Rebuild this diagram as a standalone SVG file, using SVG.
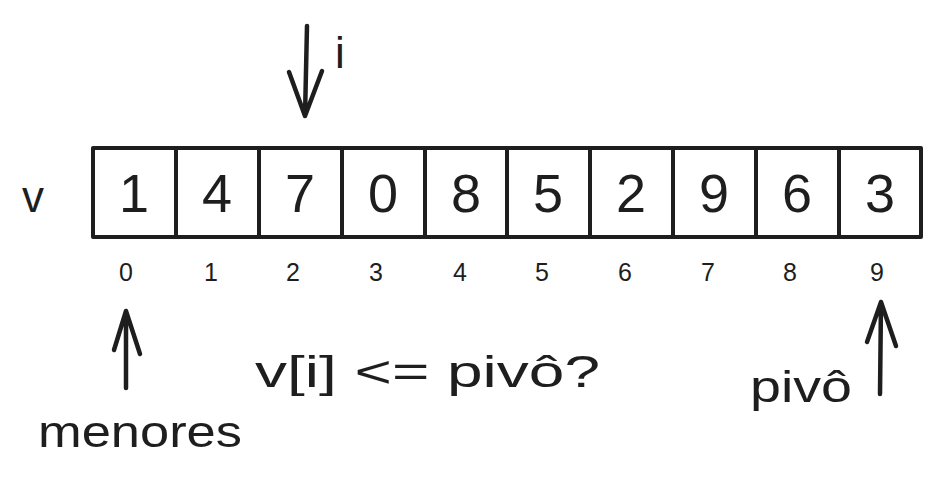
<svg xmlns="http://www.w3.org/2000/svg" width="940" height="481" viewBox="0 0 940 481">
<style>
.box{fill:#fff;stroke:#1e1e1e;stroke-width:4;stroke-linejoin:round;stroke-linecap:round}
.val{font-family:"Liberation Sans",Arial,sans-serif;font-size:54px;fill:#1e1e1e;text-anchor:middle}
.idx{font-family:"Liberation Sans",Arial,sans-serif;font-size:25px;fill:#1e1e1e;text-anchor:middle}
.lbl{font-family:"Liberation Sans",Arial,sans-serif;font-size:44px;fill:#1e1e1e}
.arr{fill:none;stroke:#1e1e1e;stroke-width:4.5;stroke-linecap:round;stroke-linejoin:round}
</style>
<rect width="940" height="481" fill="#fff"/>
<text class="lbl" x="22" y="212" font-size="42">v</text>
<g id="cell0"><rect class="box" x="93" y="148" width="83" height="89"/><text class="val" x="134" y="212">1</text><text class="idx" x="126" y="281">0</text></g>
<g id="cell1"><rect class="box" x="176" y="148" width="83" height="89"/><text class="val" x="217" y="212">4</text><text class="idx" x="211" y="281">1</text></g>
<g id="cell2"><rect class="box" x="259" y="148" width="83" height="89"/><text class="val" x="300" y="212">7</text><text class="idx" x="293" y="281">2</text></g>
<g id="cell3"><rect class="box" x="342" y="148" width="83" height="89"/><text class="val" x="383" y="212">0</text><text class="idx" x="376" y="281">3</text></g>
<g id="cell4"><rect class="box" x="425" y="148" width="82" height="89"/><text class="val" x="466" y="212">8</text><text class="idx" x="460" y="281">4</text></g>
<g id="cell5"><rect class="box" x="507" y="148" width="83" height="89"/><text class="val" x="548" y="212">5</text><text class="idx" x="542" y="281">5</text></g>
<g id="cell6"><rect class="box" x="590" y="148" width="83" height="89"/><text class="val" x="631" y="212">2</text><text class="idx" x="625" y="281">6</text></g>
<g id="cell7"><rect class="box" x="673" y="148" width="83" height="89"/><text class="val" x="714" y="212">9</text><text class="idx" x="708" y="281">7</text></g>
<g id="cell8"><rect class="box" x="756" y="148" width="83" height="89"/><text class="val" x="797" y="212">6</text><text class="idx" x="790" y="281">8</text></g>
<g id="cell9"><rect class="box" x="839" y="148" width="82" height="89"/><text class="val" x="880" y="212">3</text><text class="idx" x="877" y="281">9</text></g>
<g id="connectors">
<path class="arr" d="M307 26 L305 116 M289 72 L305 116 L322 71"/>
<path class="arr" d="M126 388 L126 311 M114 350 L126 311 L140 354"/>
<path class="arr" d="M880 394 L881 302 M867 342 L881 302 L896 346"/>
</g>
<g id="label-i"><text class="lbl" x="335" y="68" font-size="36">i</text></g>
<g id="label-cond"><text class="lbl" x="255" y="387" textLength="345" lengthAdjust="spacingAndGlyphs">v[i] &lt;= pivô?</text></g>
<g id="label-pivo"><text class="lbl" x="750" y="402" textLength="102" lengthAdjust="spacingAndGlyphs">pivô</text></g>
<g id="label-menores"><text class="lbl" x="38" y="447" font-size="46" textLength="204" lengthAdjust="spacingAndGlyphs">menores</text></g>
</svg>
